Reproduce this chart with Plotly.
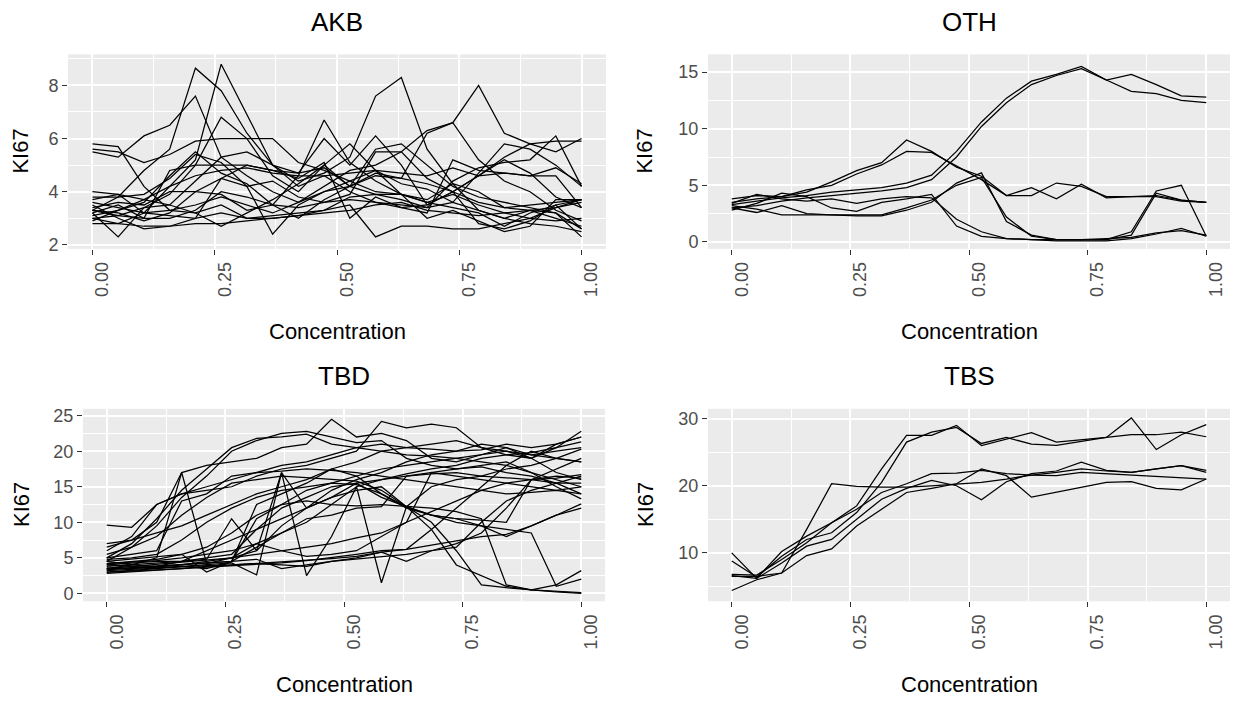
import plotly.graph_objects as go

W, H = 1233, 707

# Concentration grid (20 levels)
X = [0.0, 0.0526, 0.1053, 0.1579, 0.2105, 0.2632, 0.3158, 0.3684, 0.4211, 0.4737,
     0.5263, 0.5789, 0.6316, 0.6842, 0.7368, 0.7895, 0.8421, 0.8947, 0.9474, 1.0]

X_TICKS = [0, 0.25, 0.5, 0.75, 1.0]
X_TICK_TEXT = ["0.00", "0.25", "0.50", "0.75", "1.00"]

AKB = [
    [5.8, 5.7, 4.2, 3.3, 3.2, 3.5, 3.0, 3.1, 3.2, 3.3, 3.8, 3.9, 3.7, 3.4, 3.6, 3.3, 3.0, 2.8, 2.7, 2.5],
    [5.6, 5.5, 5.1, 5.4, 5.9, 6.0, 6.0, 6.0, 5.1, 4.8, 4.4, 4.0, 3.9, 3.7, 4.3, 4.0, 3.4, 3.3, 3.2, 2.6],
    [5.5, 5.3, 6.1, 6.5, 7.6, 5.3, 4.6, 4.0, 3.6, 4.2, 4.8, 5.0, 5.5, 6.3, 6.6, 5.2, 4.4, 4.0, 3.3, 2.9],
    [3.3, 3.8, 4.8, 5.6, 8.65, 7.8, 6.2, 5.0, 4.4, 4.7, 5.3, 7.6, 8.3, 5.6, 4.3, 3.3, 3.0, 3.3, 3.0, 2.7],
    [3.0, 2.8, 3.2, 4.2, 5.2, 8.8, 6.9, 5.0, 4.2, 4.6, 4.0, 3.6, 3.4, 3.5, 4.0, 4.6, 5.2, 4.7, 3.8, 3.4],
    [3.2, 2.3, 3.4, 3.9, 5.0, 6.8, 6.0, 4.6, 4.0, 5.0, 5.8, 4.8, 3.9, 3.6, 3.9, 3.5, 3.2, 3.0, 2.9, 3.0],
    [4.0, 3.9, 3.7, 4.2, 4.6, 4.8, 4.9, 4.7, 4.6, 4.6, 4.7, 4.8, 4.7, 4.6, 4.9, 4.6, 4.7, 4.6, 4.9, 4.3],
    [3.8, 3.8, 3.9, 4.5, 5.4, 5.1, 4.2, 2.4, 3.5, 4.0, 4.4, 4.8, 4.3, 4.1, 3.6, 4.7, 5.8, 5.6, 5.0, 4.2],
    [2.8, 2.8, 2.7, 2.7, 2.8, 2.8, 2.9, 3.0, 3.1, 3.2, 3.3, 3.5, 3.6, 3.3, 3.2, 3.1, 3.2, 3.3, 3.4, 3.6],
    [3.5, 3.0, 2.6, 2.7, 3.0, 3.2, 3.0, 3.0, 3.1, 3.3, 3.5, 2.3, 2.7, 2.7, 2.6, 2.6, 2.8, 3.0, 3.4, 3.7],
    [3.1, 3.3, 3.6, 4.6, 5.5, 4.7, 4.3, 3.5, 3.0, 3.7, 4.2, 5.6, 5.8, 5.0, 4.2, 3.8, 3.6, 3.4, 3.2, 2.3],
    [3.4, 3.6, 3.5, 4.0, 4.0, 3.9, 3.3, 3.5, 4.6, 6.7, 5.1, 4.4, 3.9, 3.6, 3.4, 3.2, 2.7, 3.2, 3.5, 3.7],
    [3.0, 3.1, 3.4, 3.5, 4.4, 5.3, 5.5, 5.0, 4.7, 6.0, 5.0, 6.1, 5.0, 3.5, 4.0, 4.6, 5.3, 5.8, 5.9, 5.9],
    [3.6, 3.4, 3.2, 3.3, 3.5, 3.8, 3.5, 3.2, 3.6, 4.0, 4.2, 4.7, 4.5, 6.2, 6.6, 8.0, 6.2, 5.8, 5.5, 6.0],
    [3.3, 3.2, 2.9, 3.2, 4.0, 4.5, 4.2, 4.4, 3.8, 3.6, 3.9, 5.5, 5.5, 4.5, 4.0, 3.6, 3.4, 3.5, 3.6, 3.7],
    [3.2, 3.5, 3.0, 3.0, 3.3, 4.0, 3.8, 3.5, 3.4, 3.6, 3.7, 3.6, 3.5, 3.4, 4.4, 4.9, 5.1, 5.2, 6.1, 4.2],
    [2.9, 3.3, 3.7, 3.5, 3.2, 2.7, 3.2, 3.7, 4.3, 5.0, 4.2, 3.9, 3.9, 3.0, 3.3, 2.9, 2.5, 2.7, 3.7, 3.7],
    [3.7, 3.9, 3.2, 3.1, 3.0, 4.5, 5.0, 4.8, 4.5, 5.1, 3.0, 3.8, 3.4, 3.2, 5.2, 4.8, 4.7, 4.6, 4.6, 3.4],
    [3.3, 3.1, 3.0, 4.8, 5.0, 5.0, 5.0, 4.8, 4.7, 4.9, 4.2, 4.6, 4.5, 4.3, 4.0, 2.8, 2.6, 2.9, 3.5, 2.6],
]

OTH = [
    [3.3, 3.6, 3.9, 4.1, 4.4, 4.6, 4.8, 5.2, 5.9, 8.0, 10.6, 12.7, 14.2, 14.8, 15.5, 14.3, 14.8, 13.9, 12.9, 12.8],
    [3.0, 3.2, 3.6, 3.9, 4.1, 4.3, 4.5, 4.8, 5.5, 7.5, 10.2, 12.3, 13.9, 14.7, 15.3, 14.3, 13.3, 13.1, 12.5, 12.3],
    [3.5, 3.8, 4.0, 4.4, 5.3, 6.3, 7.0, 9.0, 8.0, 6.6, 5.8, 4.1, 4.8, 3.8, 5.1, 3.9, 4.0, 4.1, 3.7, 3.5],
    [3.8, 4.1, 4.0, 4.6, 5.0, 6.0, 6.8, 8.0, 7.9, 6.7, 5.5, 4.1, 4.1, 5.2, 4.9, 4.0, 4.0, 4.0, 3.6, 3.5],
    [3.0, 2.6, 3.2, 2.5, 2.4, 2.4, 2.4, 3.0, 3.7, 5.0, 5.7, 2.2, 0.5, 0.2, 0.2, 0.2, 0.6, 4.3, 3.7, 3.5],
    [3.2, 2.9, 2.4, 2.4, 2.4, 2.3, 2.3, 2.8, 3.5, 5.2, 6.1, 1.8, 0.6, 0.2, 0.2, 0.2, 0.9, 4.5, 5.0, 0.5],
    [3.4, 4.2, 3.8, 3.6, 3.8, 3.4, 3.8, 4.0, 3.9, 2.0, 0.9, 0.3, 0.2, 0.1, 0.1, 0.1, 0.3, 0.7, 1.2, 0.5],
    [2.8, 3.4, 4.3, 4.0, 3.0, 2.7, 3.5, 3.8, 4.2, 1.4, 0.5, 0.3, 0.2, 0.2, 0.2, 0.3, 0.4, 0.8, 1.0, 0.6],
]

TBD = [
    [5.0, 7.0, 10.5, 14.5, 17.5, 20.5, 21.8, 22.0, 22.4, 21.0, 20.5, 20.0, 19.5, 19.3, 19.0, 18.5, 18.0, 17.0, 16.0, 15.0],
    [4.5, 6.5, 9.5, 13.5, 16.5, 20.0, 21.5, 22.5, 22.8, 22.0, 21.2, 21.5, 19.0, 18.0, 17.5, 17.8, 17.0, 16.5, 15.5, 14.0],
    [6.5, 7.5, 10.0, 17.0, 18.0, 18.5, 19.0, 20.5, 21.0, 24.5, 22.0, 22.5, 21.5, 19.0, 18.5, 19.5, 20.5, 19.0, 20.5, 22.8],
    [9.6, 9.3, 12.5, 14.0, 14.5, 15.0, 16.5, 17.5, 18.0, 19.0, 20.0, 24.2, 23.3, 23.8, 23.3, 20.5, 19.5, 19.0, 21.0, 22.0],
    [3.5, 4.0, 5.0, 17.0, 4.2, 5.0, 6.0, 9.5, 12.0, 14.5, 16.0, 17.0, 18.5, 19.5, 20.0, 21.0, 20.5, 19.5, 19.0, 18.5],
    [3.0, 3.2, 3.5, 3.8, 4.0, 4.3, 2.6, 17.0, 12.0, 13.5, 15.5, 16.0, 16.8, 17.5, 18.0, 19.0, 19.5, 19.8, 20.5, 21.3],
    [4.0, 4.2, 4.5, 4.5, 4.8, 10.5, 6.0, 17.0, 2.5, 8.0, 15.0, 1.5, 12.2, 15.0, 16.0, 16.5, 16.3, 16.0, 16.2, 16.7],
    [3.2, 3.4, 3.6, 3.8, 3.9, 4.0, 4.2, 4.4, 4.6, 4.9, 5.2, 5.8, 6.2, 6.8, 7.5, 8.0, 8.3, 9.5, 11.0, 12.6],
    [4.8, 5.0, 5.5, 7.5, 10.0, 12.0, 13.5, 14.5, 15.0, 15.5, 15.3, 14.0, 12.2, 9.0, 4.0, 2.5, 1.0, 0.5, 0.3, 0.1],
    [3.8, 4.0, 4.2, 4.5, 5.0, 5.5, 9.0, 12.0, 13.5, 15.0, 15.5, 13.5, 12.2, 10.0, 6.0, 1.2, 0.8, 0.5, 1.2, 3.2],
    [4.2, 4.5, 4.8, 5.5, 6.5, 8.5, 11.0, 12.5, 13.0, 12.5, 12.3, 12.5, 12.2, 12.0, 11.5, 10.5, 1.2, 0.5, 0.2, 0.0],
    [5.5, 6.5, 8.0, 11.0, 13.5, 15.5, 16.0, 16.5, 16.3, 16.0, 15.8, 14.5, 12.2, 11.0, 10.0, 9.5, 9.0, 8.5, 1.0, 2.0],
    [3.0, 3.1, 3.3, 3.5, 3.7, 3.9, 4.0, 4.3, 4.6, 5.0, 5.5, 6.0, 6.2, 9.0, 12.0, 15.0, 18.0, 20.0, 19.0, 18.5],
    [4.5, 4.0, 3.8, 4.0, 4.2, 4.5, 10.5, 12.5, 14.5, 15.5, 16.5, 17.5, 18.0, 18.5, 19.0, 19.5, 20.0, 19.0, 17.0, 16.0],
    [3.6, 3.5, 3.7, 4.0, 4.5, 5.0, 7.0, 8.5, 10.0, 12.5, 15.0, 16.0, 16.5, 17.0, 17.5, 18.0, 18.5, 17.0, 15.0, 13.3],
    [4.0, 3.8, 3.6, 3.8, 3.5, 4.5, 12.5, 14.0, 15.5, 17.5, 16.5, 14.0, 12.0, 11.0, 10.5, 10.3, 10.0, 16.0, 15.5, 15.5],
    [2.8, 3.0, 3.2, 3.5, 3.8, 4.0, 4.2, 4.0, 3.8, 4.5, 4.8, 5.2, 5.5, 6.0, 7.0, 8.5, 12.0, 16.0, 17.5, 19.0],
    [5.0, 5.5, 6.0, 13.0, 14.0, 16.5, 17.0, 17.2, 17.5, 17.3, 17.0, 16.5, 16.0, 15.5, 15.0, 14.5, 14.0, 14.2, 14.5, 14.0],
    [3.3, 3.5, 3.8, 4.5, 6.0, 7.5, 9.0, 10.5, 12.0, 13.5, 14.5, 15.0, 12.2, 11.0, 10.5, 9.5, 8.0, 9.5, 11.0, 12.0],
    [4.5, 4.8, 5.2, 5.5, 3.0, 4.5, 6.5, 8.5, 10.5, 11.0, 12.0, 12.2, 16.5, 16.8, 17.0, 16.5, 17.5, 18.0, 19.0, 20.3],
    [3.5, 3.8, 4.0, 4.3, 4.6, 5.0, 5.5, 6.0, 6.5, 7.0, 7.8, 8.5, 10.0, 17.0, 16.5, 16.0, 15.5, 15.0, 14.5, 15.0],
    [4.2, 4.4, 4.6, 5.0, 5.5, 6.0, 7.0, 6.0, 5.2, 5.5, 6.0, 8.0, 10.0, 11.5, 13.0, 14.5, 15.5, 16.0, 16.5, 16.2],
    [3.4, 3.6, 3.8, 4.0, 4.2, 4.5, 4.8, 3.5, 4.0, 4.5, 5.0, 5.8, 4.5, 6.0, 6.5, 10.0, 13.0, 14.5, 15.5, 16.5],
    [6.0, 8.0, 12.5, 14.0, 15.0, 16.0, 17.0, 18.0, 18.5, 19.5, 20.5, 21.0, 20.5, 20.3, 20.0, 20.2, 21.0, 20.5, 21.0, 22.0],
    [7.0, 7.5, 8.5, 9.5, 11.0, 12.5, 14.0, 15.0, 16.0, 17.5, 18.5, 20.0, 20.5, 21.0, 21.5, 20.5, 20.0, 19.5, 20.0, 20.5],
]

TBS = [
    [6.5, 6.5, 7.0, 13.5, 20.3, 19.9, 19.8, 19.8, 20.0, 20.3, 20.5, 21.0, 21.6, 22.0, 22.5, 22.2, 22.0, 22.5, 23.0, 22.3],
    [10.0, 6.2, 10.2, 12.5, 14.5, 17.0, 22.5, 27.5, 27.5, 29.0, 26.0, 27.0, 27.9, 26.5, 26.8, 27.2, 30.1, 25.4, 27.6, 29.1],
    [8.8, 6.4, 9.5, 12.0, 13.0, 16.0, 20.5, 26.5, 28.0, 28.7, 26.3, 27.2, 26.2, 26.0, 26.6, 27.2, 27.6, 27.6, 28.0, 27.3],
    [4.4, 6.0, 7.0, 9.6, 10.6, 14.0, 16.5, 19.0, 19.6, 20.3, 22.5, 21.5, 18.3, 19.0, 19.7, 20.5, 20.6, 19.6, 19.4, 21.0],
    [6.6, 6.2, 8.5, 11.0, 12.0, 15.0, 18.0, 19.6, 20.8, 20.0, 17.9, 20.6, 21.8, 22.2, 23.5, 22.3, 22.0, 22.5, 23.0, 22.0],
    [6.8, 6.7, 9.0, 11.5, 14.5, 16.5, 19.0, 20.3, 21.8, 21.9, 22.3, 21.8, 21.6, 21.5, 22.0, 21.8, 21.6, 21.4, 21.3, 21.0],
]

PANEL_NAMES = ["AKB", "OTH", "TBD", "TBS"]
PANEL_DATA = [AKB, OTH, TBD, TBS]
Y_TICKS = [[2, 4, 6, 8], [0, 5, 10, 15], [0, 5, 10, 15, 20, 25], [10, 20, 30]]
Y_MINOR = [[3, 5, 7, 9], [2.5, 7.5, 12.5], [2.5, 7.5, 12.5, 17.5, 22.5], [5, 15, 25]]
Y_RANGES = [[1.85, 9.17], [-0.61, 16.57], [-1.11, 25.97], [2.79, 31.47]]

# panel boxes in pixels: (left, right, top, bottom)
BOXES = [(68, 606, 52, 249), (708, 1230, 52, 249), (83, 605, 411, 606), (708, 1230, 411, 606)]
YTITLE_X = [21, 645, 21, 645]

FONT = "Liberation Sans"
TICK_COL = "#4D4D4D"

fig = go.Figure()
annotations = []
for i, (name, lines) in enumerate(zip(PANEL_NAMES, PANEL_DATA)):
    sfx = "" if i == 0 else str(i + 1)
    l, r, t, b = BOXES[i]
    for ys in lines:
        fig.add_trace(go.Scatter(x=X, y=ys, mode="lines",
                                 line=dict(color="black", width=1.25),
                                 xaxis="x" + sfx, yaxis="y" + sfx,
                                 showlegend=False, hoverinfo="skip"))
    fig.update_layout(**{
        "xaxis" + sfx: dict(
            domain=[l / W, r / W], range=[-0.05, 1.05], anchor="y" + sfx,
            tickvals=X_TICKS, ticktext=X_TICK_TEXT, tickangle=-90,
            ticks="outside", ticklen=5, tickwidth=1, tickcolor="#333333",
            ticklabelshift=10,
            tickfont=dict(family=FONT, size=18, color=TICK_COL),
            showgrid=True, gridcolor="white", gridwidth=1.5, zeroline=False,
            showline=False, fixedrange=True,
            minor=dict(tickvals=[0.125, 0.375, 0.625, 0.875], showgrid=True,
                       gridcolor="white", gridwidth=0.7, ticks=""),
        ),
        "yaxis" + sfx: dict(
            domain=[1 - b / H, 1 - t / H], range=Y_RANGES[i], anchor="x" + sfx,
            tickvals=Y_TICKS[i], ticks="outside", ticklen=5, tickwidth=1,
            tickcolor="#333333",
            tickfont=dict(family=FONT, size=18, color=TICK_COL),
            showgrid=True, gridcolor="white", gridwidth=1.5, zeroline=False,
            showline=False, fixedrange=True,
            minor=dict(tickvals=Y_MINOR[i], showgrid=True, gridcolor="white",
                       gridwidth=0.7, ticks=""),
        ),
    })
    cx = (l + r) / 2 / W
    # panel title
    annotations.append(dict(text=name, x=cx, y=1 - (t - 33) / H, xref="paper", yref="paper",
                            showarrow=False, font=dict(family=FONT, size=26, color="black"),
                            xanchor="center", yanchor="middle"))
    # x axis title
    annotations.append(dict(text="Concentration", x=cx, y=1 - (b + 84) / H, xref="paper", yref="paper",
                            showarrow=False, font=dict(family=FONT, size=22, color="black"),
                            xanchor="center", yanchor="middle"))
    # y axis title
    annotations.append(dict(text="KI67", x=YTITLE_X[i] / W, y=1 - (t + b) / 2 / H, xref="paper", yref="paper",
                            showarrow=False, textangle=-90,
                            font=dict(family=FONT, size=22, color="black"),
                            xanchor="center", yanchor="middle"))

fig.update_layout(
    width=W, height=H, margin=dict(l=0, r=0, t=0, b=0),
    paper_bgcolor="white", plot_bgcolor="#EBEBEB",
    annotations=annotations, showlegend=False,
)

fig.write_html("out.html")
